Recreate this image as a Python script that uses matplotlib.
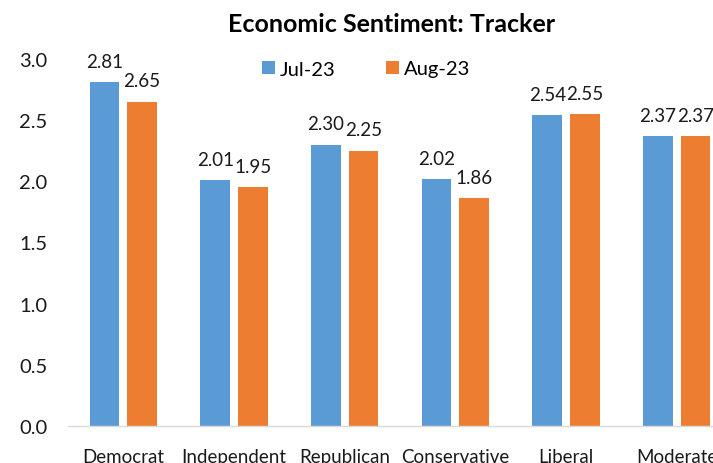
import matplotlib
matplotlib.use("Agg")
import matplotlib.pyplot as plt
import numpy as np

plt.rcParams["font.family"] = ["Lato", "DejaVu Sans"]

categories = ["Democrat", "Independent", "Republican", "Conservative", "Liberal", "Moderate"]
jul_23 = [2.81, 2.01, 2.30, 2.02, 2.54, 2.37]
aug_23 = [2.65, 1.95, 2.25, 1.86, 2.55, 2.37]
series_names = ["Jul-23", "Aug-23"]
y_ticks = [0.0, 0.5, 1.0, 1.5, 2.0, 2.5, 3.0]

BLUE = "#5B9BD5"
ORANGE = "#ED7D31"

W, H = 713, 464
fig = plt.figure(figsize=(W / 100, H / 100), dpi=100)
fig.patch.set_facecolor("white")

# plot area runs past the right edge of the canvas, so the last group is cut
left, right, bottom, top = 68, 732, 427, 60
ax = fig.add_axes([left / W, (H - bottom) / H, (right - left) / W, (bottom - top) / H])

x = np.arange(len(categories))
bw = 0.27
off = 0.17
b1 = ax.bar(x - off, jul_23, bw, color=BLUE, label=series_names[0], zorder=2)
b2 = ax.bar(x + off, aug_23, bw, color=ORANGE, label=series_names[1], zorder=2)

for bars, vals in ((b1, jul_23), (b2, aug_23)):
    for rect, v in zip(bars, vals):
        ax.annotate(f"{v:.2f}", (rect.get_x() + rect.get_width() / 2, v),
                    xytext=(0, 15), textcoords="offset points",
                    ha="center", va="center", fontsize=13.5, color="#1a1a1a",
                    annotation_clip=False)

ax.set_xlim(-0.5, len(categories) - 0.5)
ax.set_ylim(0, 3.0)
ax.set_yticks(y_ticks)
ax.set_yticklabels([f"{t:.1f}" for t in y_ticks])
ax.set_xticks(x)
ax.set_xticklabels(categories)
ax.tick_params(axis="y", length=0, pad=15, labelsize=14.5, labelcolor="#1a1a1a")
ax.tick_params(axis="x", length=0, pad=16, labelsize=13.5, labelcolor="#1a1a1a")

for side in ("left", "right", "top"):
    ax.spines[side].set_visible(False)
ax.spines["bottom"].set_color("#D9D9D9")
ax.spines["bottom"].set_linewidth(1.0)

fig.text(392 / W, 1 - 25 / H, "Economic Sentiment: Tracker", ha="center", va="center",
         fontsize=18, fontweight="bold", color="#000000")

fig.legend(handles=[b1, b2], labels=series_names, loc="center",
           bbox_to_anchor=(366 / W, 1 - 70 / H), ncol=2, frameon=False,
           fontsize=14.5, handlelength=0.65, handleheight=0.65,
           handletextpad=0.25, columnspacing=2.5, borderpad=0)

fig.savefig("out.png", dpi=100, facecolor="white")
